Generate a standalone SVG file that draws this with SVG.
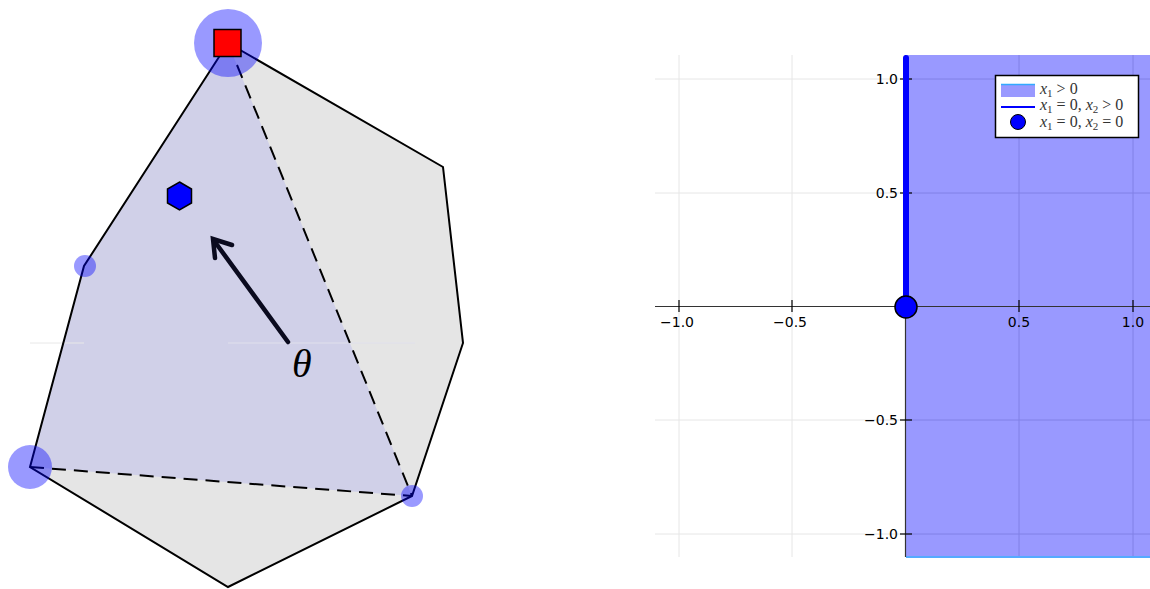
<svg xmlns="http://www.w3.org/2000/svg" width="1150" height="589" viewBox="0 0 1150 589">
<style>
.edge{fill:none;stroke:#000;stroke-width:2;stroke-linejoin:miter}
.dash{fill:none;stroke:#000;stroke-width:2;stroke-dasharray:14,8}
.halo{fill:#0000ff;fill-opacity:0.4}
.grid{stroke:#e6e6e6;stroke-width:1}
.tick{font-family:"DejaVu Sans",sans-serif;font-size:14px;fill:#000}
.leg{font-family:"Liberation Serif",serif;font-style:italic;font-size:16px;fill:#333}
.sub{font-size:11px}
.num{font-style:normal}
</style>
<rect width="1150" height="589" fill="#fff"/>
<!-- Left panel -->
<g id="polytope">
<polygon points="228,43 443,167 463,343 412,496 228,587 30,467 84,266" fill="#e5e5e5"/>
<polygon points="228,43 412,496 30,467 84,266" fill="#d0d0e8"/>
<line x1="30" y1="343" x2="84" y2="343" stroke="#e8e8e8" stroke-width="1"/>
<line x1="228" y1="343" x2="415" y2="343" stroke="#e0e0ec" stroke-width="1"/>
<polygon class="edge" points="228,43 443,167 463,343 412,496 228,587 30,467 84,266"/>
</g>
<g id="connectors">
<line class="dash" x1="237" y1="65" x2="412" y2="496"/>
<line class="dash" x1="30" y1="467" x2="412" y2="496"/>
<line x1="288" y1="342" x2="215" y2="242" stroke="#0a0a1e" stroke-width="4.5" stroke-linecap="round"/>
<polyline points="215,258 213,239 232,245" fill="none" stroke="#0a0a1e" stroke-width="4.5" stroke-linecap="round" stroke-linejoin="miter"/>
</g>
<g id="vertex-top"><circle class="halo" cx="228" cy="43" r="34"/><rect x="214" y="29.5" width="27" height="27" fill="#ff0000" stroke="#000" stroke-width="1.5"/></g>
<g id="vertex-left"><circle class="halo" cx="85" cy="266" r="11"/></g>
<g id="vertex-bottom-left"><circle class="halo" cx="30" cy="467" r="22"/></g>
<g id="vertex-bottom-right"><circle class="halo" cx="412" cy="496" r="11"/></g>
<g id="hexagon"><polygon points="179.5,182 191.5,189 191.5,203 179.5,210 167.5,203 167.5,189" fill="#0000ff" stroke="#000" stroke-width="1.5"/></g>
<g id="theta"><text x="292" y="377" font-family="Liberation Serif,serif" font-style="italic" font-size="40" fill="#000">θ</text></g>
<!-- Right panel -->
<g id="plot">
<g class="grid">
<line x1="679" y1="55" x2="679" y2="557"/><line x1="792" y1="55" x2="792" y2="557"/>
<line x1="1019" y1="55" x2="1019" y2="557"/><line x1="1133" y1="55" x2="1133" y2="557"/>
<line x1="655" y1="79" x2="1150" y2="79"/><line x1="655" y1="193" x2="1150" y2="193"/>
<line x1="655" y1="420" x2="1150" y2="420"/><line x1="655" y1="534" x2="1150" y2="534"/>
</g>
<rect id="region" x="906" y="55" width="244" height="502" fill="#9999ff"/>
<g stroke="#8080e6" stroke-width="1">
<line x1="1019" y1="55" x2="1019" y2="557"/><line x1="1133" y1="55" x2="1133" y2="557"/>
<line x1="906" y1="79" x2="1150" y2="79"/><line x1="906" y1="193" x2="1150" y2="193"/>
<line x1="906" y1="420" x2="1150" y2="420"/><line x1="906" y1="534" x2="1150" y2="534"/>
</g>
<line x1="906" y1="557" x2="1150" y2="557" stroke="#55aaff" stroke-width="2"/>
<line x1="655" y1="306.5" x2="1150" y2="306.5" stroke="#333" stroke-width="1.2"/>
<line x1="905.5" y1="55" x2="905.5" y2="557" stroke="#333" stroke-width="1.2"/>
<g stroke="#000" stroke-width="1.2">
<line x1="679" y1="300" x2="679" y2="312"/><line x1="792" y1="300" x2="792" y2="312"/>
<line x1="1019" y1="300" x2="1019" y2="312"/><line x1="1133" y1="300" x2="1133" y2="312"/>
<line x1="900" y1="79" x2="912" y2="79"/><line x1="900" y1="193" x2="912" y2="193"/>
<line x1="900" y1="420" x2="912" y2="420"/><line x1="900" y1="534" x2="912" y2="534"/>
</g>
<g class="tick" text-anchor="middle">
<text x="677" y="327">−1.0</text><text x="790" y="327">−0.5</text>
<text x="1019" y="327">0.5</text><text x="1133" y="327">1.0</text>
</g>
<g class="tick" text-anchor="end">
<text x="898" y="84">1.0</text><text x="898" y="198">0.5</text>
<text x="898" y="425">−0.5</text><text x="898" y="539">−1.0</text>
</g>
<line x1="906" y1="58" x2="906" y2="306" stroke="#0000ff" stroke-width="6" stroke-linecap="round"/>
<circle cx="906" cy="307" r="11" fill="#0000ff" stroke="#000" stroke-width="1.5"/>
</g>
<g id="legend">
<rect x="995.5" y="75.5" width="143" height="62" fill="#fff" stroke="#000" stroke-width="1.5"/>
<rect x="1001" y="84" width="34" height="13" fill="#9999ff"/>
<line x1="1001" y1="84.5" x2="1035" y2="84.5" stroke="#33aaff" stroke-width="1.5"/>
<line x1="1001" y1="107" x2="1035" y2="107" stroke="#0000ff" stroke-width="2"/>
<circle cx="1018" cy="122" r="7.5" fill="#0000ff" stroke="#000" stroke-width="1"/>
<text class="leg" x="1040" y="94">x<tspan class="sub num" dy="3">1</tspan><tspan class="num" dy="-3"> &gt; 0</tspan></text>
<text class="leg" x="1040" y="110">x<tspan class="sub num" dy="3">1</tspan><tspan class="num" dy="-3"> = 0, </tspan>x<tspan class="sub num" dy="3">2</tspan><tspan class="num" dy="-3"> &gt; 0</tspan></text>
<text class="leg" x="1040" y="127">x<tspan class="sub num" dy="3">1</tspan><tspan class="num" dy="-3"> = 0, </tspan>x<tspan class="sub num" dy="3">2</tspan><tspan class="num" dy="-3"> = 0</tspan></text>
</g>
</svg>
